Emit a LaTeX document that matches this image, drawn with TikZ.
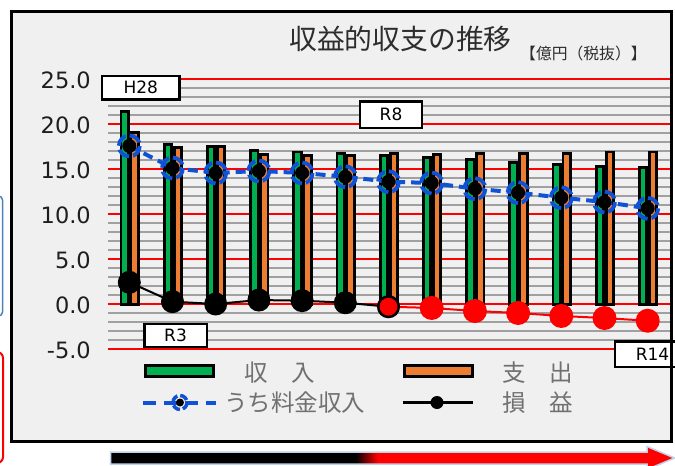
\documentclass[tikz,border=0pt]{standalone}
\usepackage{fontspec}
\setmainfont{DejaVu Sans}
\newfontfamily\jp{Noto Sans CJK JP}
\definecolor{xgreen}{RGB}{0,176,80}
\definecolor{xorange}{RGB}{237,125,49}
\definecolor{xblue}{RGB}{16,82,214}
\definecolor{gridgray}{RGB}{160,160,160}
\definecolor{framebg}{RGB}{240,240,240}
\definecolor{legtext}{RGB}{112,112,112}
\definecolor{axtext}{RGB}{30,30,30}
\definecolor{titletext}{RGB}{45,45,45}
\definecolor{sideblue}{RGB}{79,129,189}
\definecolor{arrowedge}{RGB}{190,210,235}
\tikzset{
  gridg/.style={gridgray, line width=1.4},
  gridr/.style={red, line width=1.4},
  bar/.style={draw=black, line width=2.8},
  blueline/.style={xblue, line width=4, dash pattern=on 10pt off 6pt},
  bluering/.style={xblue, line width=3.8, dash pattern=on 12.5pt off 4pt},
  lbl/.style={draw=black, fill=white, line width=2.5, inner sep=0, font=\fontsize{17}{20}\selectfont},
  axlbl/.style={anchor=east, inner sep=0, font=\fontsize{22.5}{26}\selectfont, text=axtext},
  legtxt/.style={anchor=west, inner sep=0, text=legtext, font=\jp\fontsize{23.5}{26}\selectfont},
  swatch/.style={draw=black, line width=3}
}
\begin{document}
\begin{tikzpicture}[x=1pt,y=-1pt]
\useasboundingbox (0,0) rectangle (675,466);
\fill[white] (0,0) rectangle (675,466);
% side fragments
\draw[sideblue, line width=1.5, rounded corners=4] (-40,196) rectangle (2.5,316);
\draw[red, line width=2, rounded corners=6] (-40,352) rectangle (3,463);
% frame background
\fill[framebg] (11.5,11.5) rectangle (671.5,441.5);
% grid
\foreach \v in {-5,...,25} \draw[gridg] (108,{304-9*\v}) -- (671,{304-9*\v});
\foreach \v in {-5,0,5,10,15,20,25} \draw[gridr] (108,{304-9*\v}) -- (671,{304-9*\v});
% axis labels
\foreach \v/\t in {25/25.0,20/20.0,15/15.0,10/10.0,5/5.0,0/0.0,-5/-5.0}
  \node[axlbl] (ax\v) at (91,{305-9*\v}) {\t};
% bars and coordinates
\foreach \i/\g/\o/\b/\p in {
1/21.4/19.1/17.56/2.41,
2/17.7/17.4/15.11/0.26,
3/17.5/17.5/14.56/0.0,
4/17.1/16.6/14.78/0.44,
5/16.9/16.5/14.56/0.37,
6/16.7/16.5/14.14/0.14,
7/16.5/16.7/13.59/-0.3,
8/16.3/16.6/13.44/-0.44,
9/16.1/16.7/12.81/-0.78,
10/15.7/16.7/12.37/-1.0,
11/15.5/16.7/11.81/-1.33,
12/15.3/16.9/11.33/-1.56,
13/15.2/16.9/10.63/-1.86}{
  \pgfmathsetmacro\c{129.6+(\i-1)*43.2}
  \filldraw[bar, fill=xgreen] ({\c-8.7},304.3) rectangle ({\c-1.3},{304-9*\g});
  \filldraw[bar, fill=xorange] ({\c+1.3},304.3) rectangle ({\c+8.7},{304-9*\o});
  \coordinate (b\i) at ({\c-0.3},{304-9*\b});
  \coordinate (q\i) at ({\c-0.3},{304-9*\p});
}
% blue line (revenue from charges)
\draw[blueline] (b1) \foreach \i in {2,...,13}{ -- (b\i)};
\foreach \i in {1,...,13}{
  \fill[black] (b\i) circle (7);
  \draw[bluering] (b\i) circle (10.5);
}
% profit line
\draw[black, line width=2] (q1) \foreach \i in {2,...,7}{ -- (q\i)};
\draw[red, line width=2] (q7) \foreach \i in {8,...,13}{ -- (q\i)};
\foreach \i in {1,...,6} \fill[black] (q\i) circle (11.5);
\foreach \i in {8,...,13} \fill[red] (q\i) circle (12);
\filldraw[fill=red, draw=black, line width=2.5] (q7) circle (10.3);
% label boxes
\node[lbl, minimum width=77.5, minimum height=23.5] (h28) at (140.8,87.8) {H28};
\node[lbl, minimum width=62, minimum height=26.5] (r8) at (391,114.5) {R8};
\node[lbl, minimum width=62.5, minimum height=23] (r3) at (175.5,335.5) {R3};
\node[lbl, minimum width=75, minimum height=25.5] (r14) at (652.5,354) {R14};
% title
\node[anchor=west, inner sep=0, text=titletext, font=\jp\fontsize{27.8}{31}\selectfont] (title) at (289,39) {収益的収支の推移};
\node[anchor=west, inner sep=0, text=titletext, font=\jp\fontsize{15.8}{18}\selectfont] (unit) at (520,53.5) {【億円（税抜）】};
% legend
\filldraw[swatch, fill=xgreen] (145.5,365.5) rectangle (213.5,376);
\node[legtxt] (l1) at (244,372.5) {収　入};
\filldraw[swatch, fill=xorange] (404.5,365.5) rectangle (472,376.5);
\node[legtxt] (l2) at (502,372.5) {支　出};
\coordinate (lb1) at (143,402.5);
\coordinate (lb2) at (216,402.5);
\coordinate (lbm) at (180,402.5);
\draw[blueline, dash pattern=on 13pt off 8pt] (lb1) -- (lb2);
\fill[black] (lbm) circle (4);
\draw[xblue, line width=3.5, dash pattern=on 8pt off 3pt] (lbm) circle (7);
\node[legtxt] (l3) at (224,402.5) {うち料金収入};
\coordinate (lk1) at (403,402.5);
\coordinate (lk2) at (473,402.5);
\coordinate (lkm) at (437,402.5);
\draw[black, line width=2.5] (lk1) -- (lk2);
\fill[black] (lkm) circle (6.5);
\node[legtxt] (l4) at (502,402.5) {損　益};
% frame border
\draw[black, line width=3] (11.5,11.5) rectangle (671.5,441.5);
% bottom arrow
\fill[red] (110.5,452) -- (647,452) -- (647,446.5) -- (674.5,458) -- (647,469.5) -- (647,464) -- (110.5,464) -- cycle;
\fill[black] (110.5,452) rectangle (356,464);
\shade[left color=black, right color=red] (355.5,452) rectangle (378,464);
\draw[arrowedge, line width=1.5] (110.5,452) -- (647,452) -- (647,446.5) -- (674.5,458) -- (647,469.5) -- (647,464) -- (110.5,464) -- cycle;
\end{tikzpicture}
\end{document}
